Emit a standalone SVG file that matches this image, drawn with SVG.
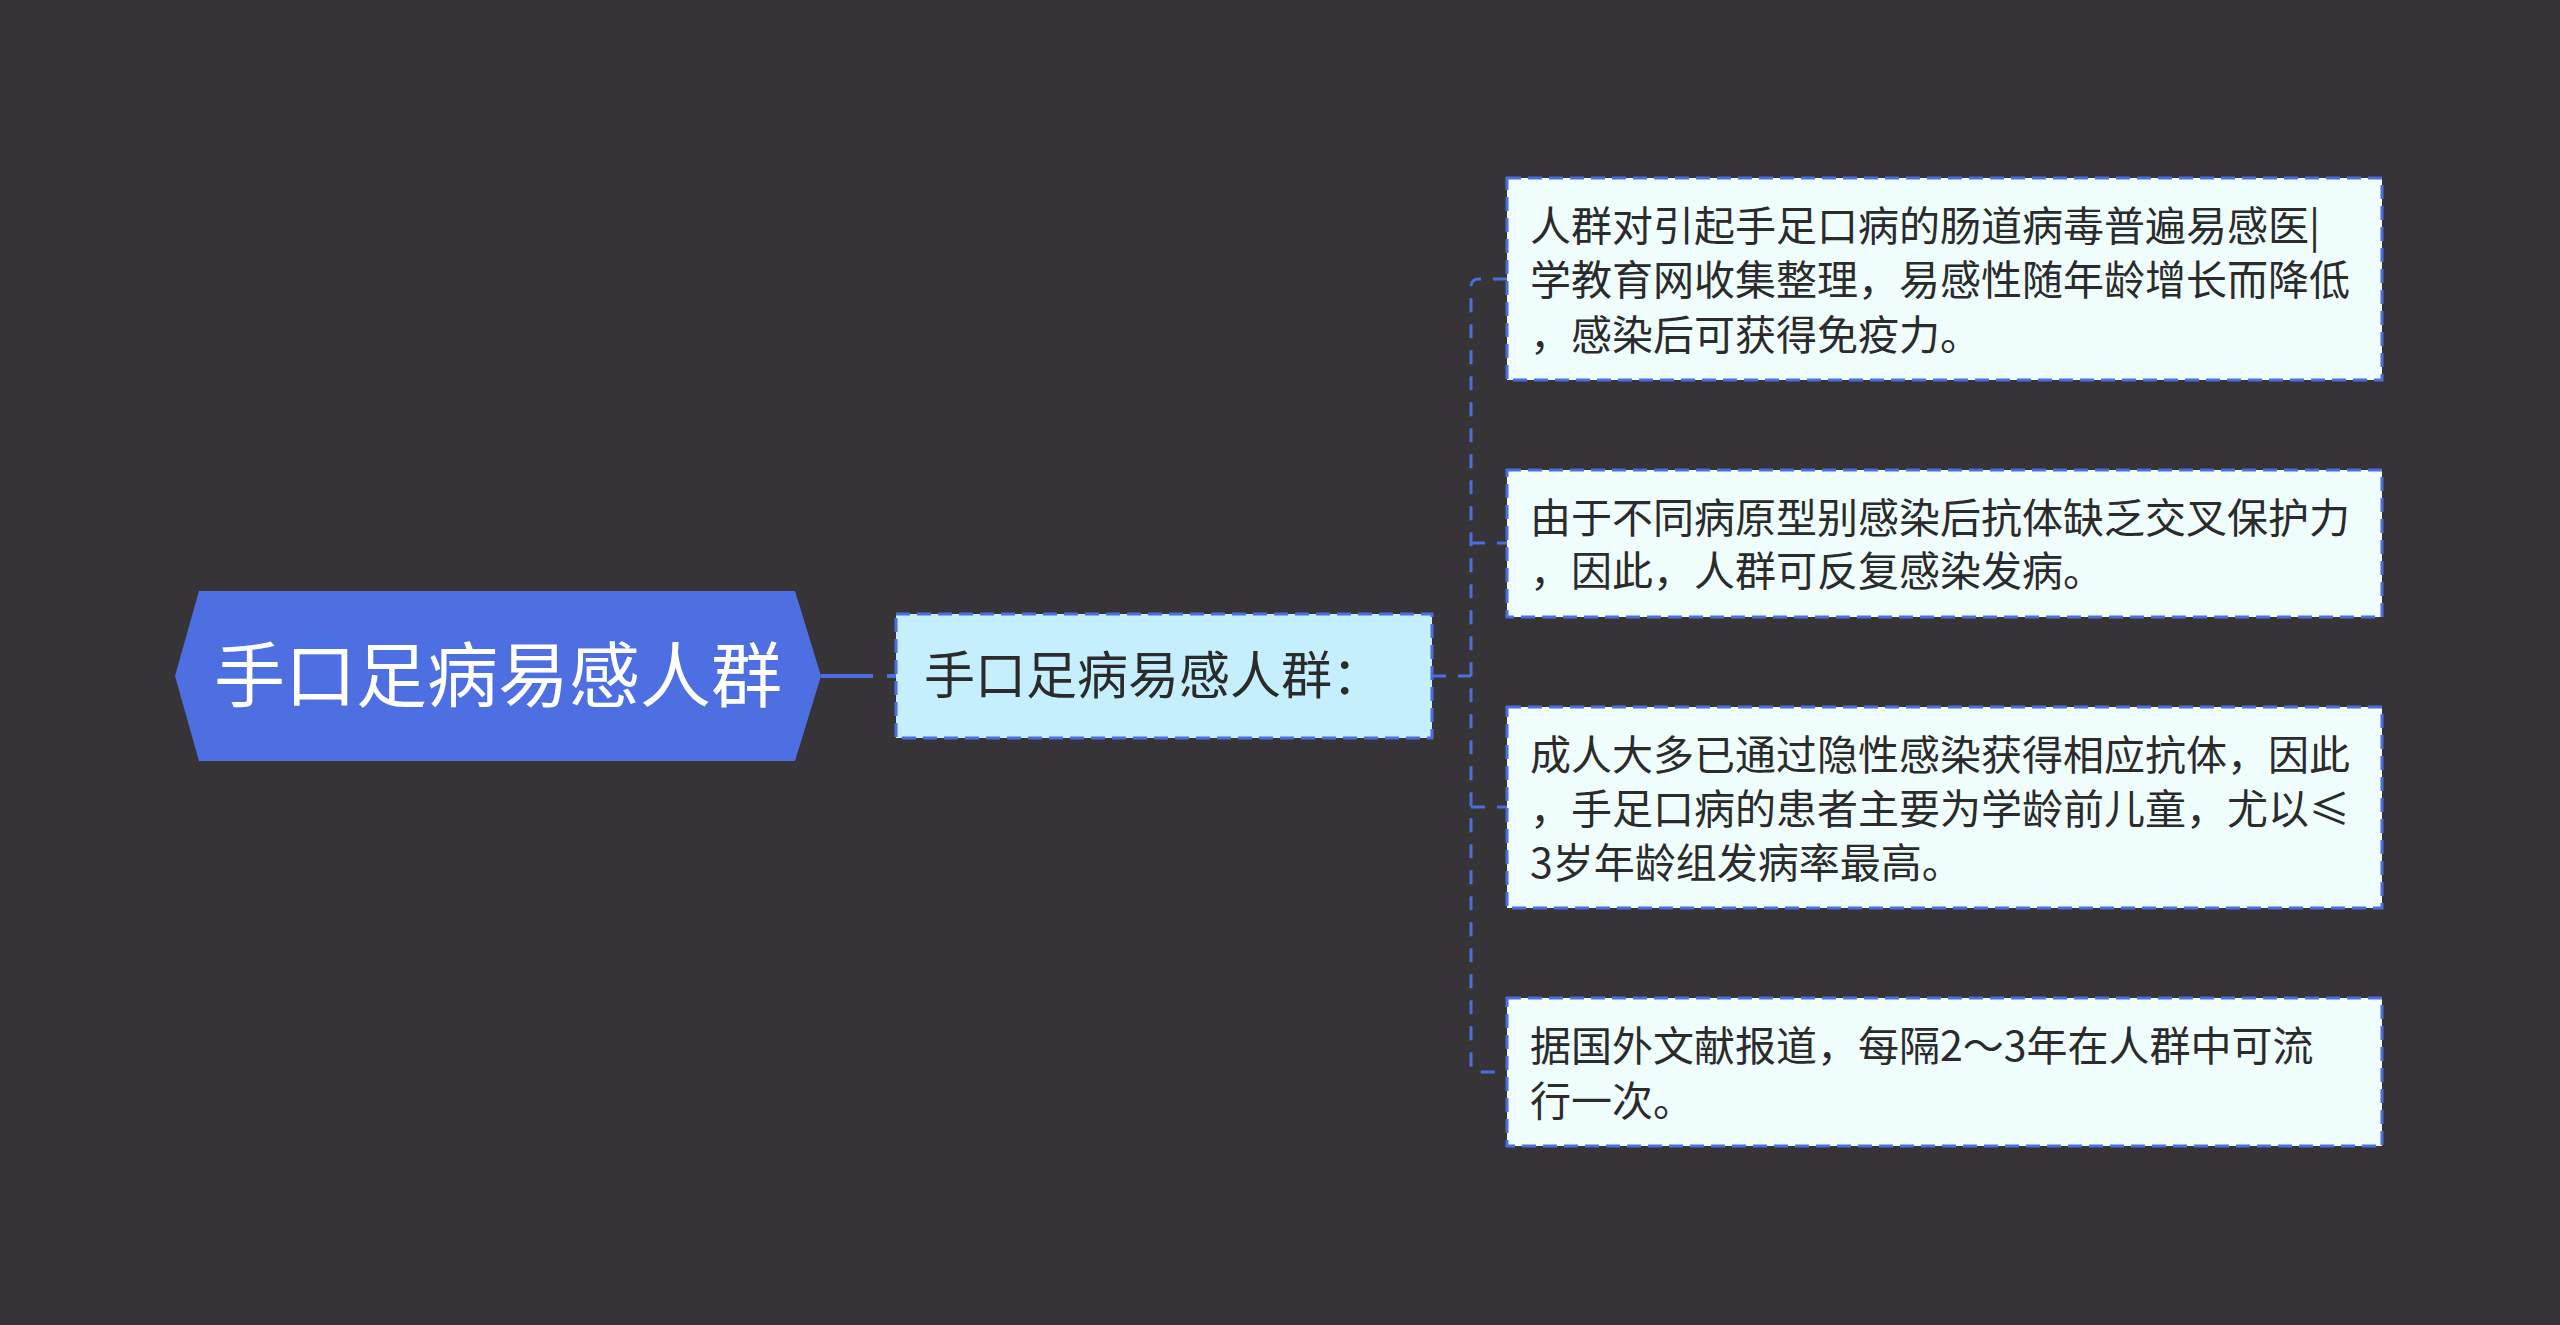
<svg xmlns="http://www.w3.org/2000/svg" width="2560" height="1325" viewBox="0 0 2560 1325">
<style>
.bg{fill:#363436}
.t{font-family:"Noto Sans CJK SC","Noto Sans",sans-serif;fill:#2b2b2b}
.box{fill:#f0fdfd;stroke:#4a6ee0;stroke-width:3;stroke-dasharray:14 7}
.mid{fill:#c6effd;stroke:#4a6ee0;stroke-width:3;stroke-dasharray:14 7}
.c{fill:none;stroke:#4a6ee0;stroke-width:3;stroke-dasharray:14 12}
.txt{font-size:41px}
</style>
<rect class="bg" x="0" y="0" width="2560" height="1325"/>
<g id="connectors">
<path d="M821 676 H896" fill="none" stroke="#4a6ee0" stroke-width="4" stroke-dasharray="52 14 10 0"/>
<path class="c" d="M1432 676 H1471"/>
<path class="c" d="M1507 279 H1479 Q1471 279 1471 287 V1064 Q1471 1072 1479 1072 H1507"/>
<path class="c" d="M1471 543 H1507"/>
<path class="c" d="M1471 807 H1507"/>
</g>
<g id="root">
<polygon points="175,676 199,591 795,591 821,676 795,761 199,761" fill="#4d6fe1"/>
<text class="t" x="498" y="701" text-anchor="middle" font-size="71" style="fill:#ffffff">手口足病易感人群</text>
</g>
<g id="mid">
<rect class="mid" x="896" y="614" width="536" height="124"/>
<text class="t" x="924" y="694" font-size="51">手口足病易感人群：</text>
</g>
<g id="n1">
<rect class="box" x="1507" y="178" width="875" height="202"/>
<text class="t txt"><tspan x="1530" y="241">人群对引起手足口病的肠道病毒普遍易感医|</tspan><tspan x="1530" y="295">学教育网收集整理，易感性随年龄增长而降低</tspan><tspan x="1530" y="350">，感染后可获得免疫力。</tspan></text>
</g>
<g id="n2">
<rect class="box" x="1507" y="470" width="875" height="147"/>
<text class="t txt"><tspan x="1530" y="533">由于不同病原型别感染后抗体缺乏交叉保护力</tspan><tspan x="1530" y="586">，因此，人群可反复感染发病。</tspan></text>
</g>
<g id="n3">
<rect class="box" x="1507" y="707" width="875" height="201"/>
<text class="t txt"><tspan x="1530" y="770">成人大多已通过隐性感染获得相应抗体，因此</tspan><tspan x="1530" y="824">，手足口病的患者主要为学龄前儿童，尤以≤</tspan><tspan x="1530" y="878">3岁年龄组发病率最高。</tspan></text>
</g>
<g id="n4">
<rect class="box" x="1507" y="998" width="875" height="148"/>
<text class="t txt"><tspan x="1530" y="1061">据国外文献报道，每隔2～3年在人群中可流</tspan><tspan x="1530" y="1116">行一次。</tspan></text>
</g>
</svg>
